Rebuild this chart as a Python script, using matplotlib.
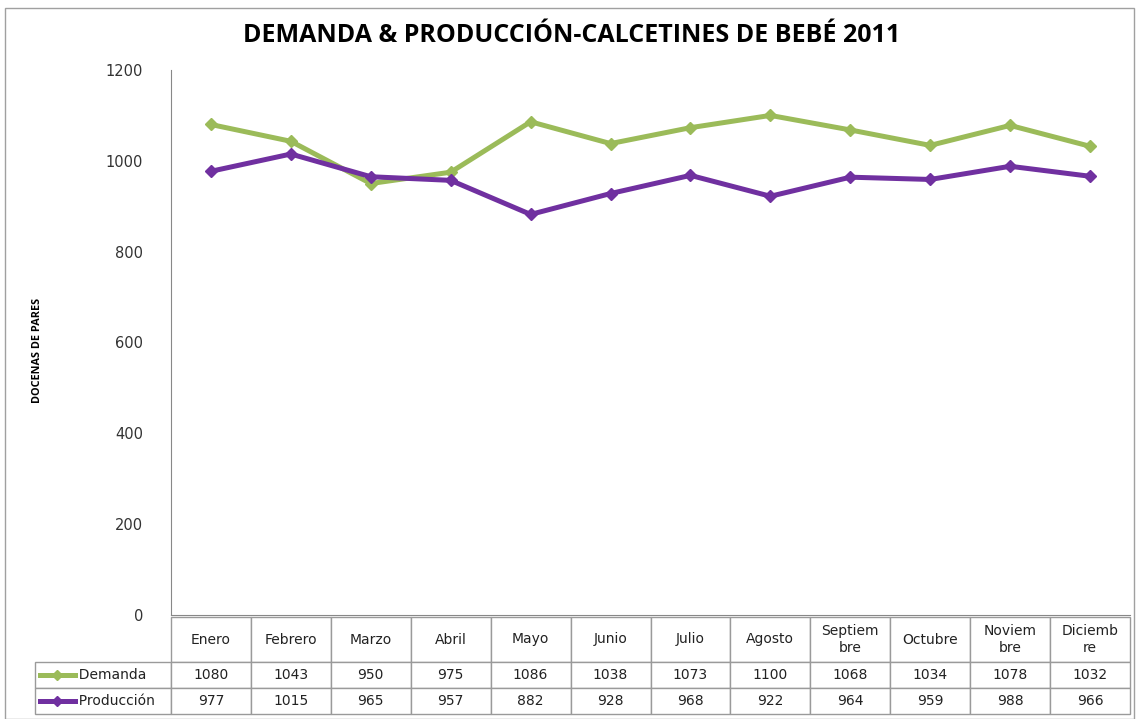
import matplotlib.pyplot as plt
from matplotlib.patches import Rectangle
from matplotlib.lines import Line2D

plt.rcParams["font.family"] = "DejaVu Sans"

meses = ["Enero", "Febrero", "Marzo", "Abril", "Mayo", "Junio", "Julio",
         "Agosto", "Septiem\nbre", "Octubre", "Noviem\nbre", "Diciemb\nre"]
demanda = [1080, 1043, 950, 975, 1086, 1038, 1073, 1100, 1068, 1034, 1078, 1032]
produccion = [977, 1015, 965, 957, 882, 928, 968, 922, 964, 959, 988, 966]
series = ["Demanda", "Producción"]
colores = ["#9BBB59", "#7030A0"]

W, H = 1137, 719
fig = plt.figure(figsize=(W / 100, H / 100), dpi=100)
fig.patches.append(Rectangle((5 / W, 0), (W - 8) / W, (H - 8) / H, transform=fig.transFigure,
                             fill=False, edgecolor="#A0A0A0", lw=1))

ax_l, ax_r, ax_t, ax_b = 171, 1130, 70, 615
ax = fig.add_axes([ax_l / W, (H - ax_b) / H, (ax_r - ax_l) / W, (ax_b - ax_t) / H])

x = list(range(len(meses)))
for vals, c in zip([demanda, produccion], colores):
    ax.plot(x, vals, color=c, lw=3.6, marker="D", markersize=6, clip_on=False)

ax.set_xlim(-0.5, len(meses) - 0.5)
ax.set_ylim(0, 1200)
ax.set_yticks(range(0, 1201, 200))
ax.tick_params(axis="y", length=0, pad=20, labelsize=10.5, colors="#333333")
ax.tick_params(axis="x", bottom=False, labelbottom=False)
for s in ["top", "right"]:
    ax.spines[s].set_visible(False)
ax.spines["left"].set_color("#888888")
ax.spines["bottom"].set_color("#888888")

fig.text(572 / W, 1 - 36 / H, "DEMANDA & PRODUCCIÓN-CALCETINES DE BEBÉ 2011",
         ha="center", va="center", fontsize=18, fontweight="bold", family="Open Sans")
fig.text(38 / W, 1 - 350 / H, "DOCENAS DE PARES", rotation=90, ha="center", va="center",
         fontsize=7.8, fontweight="bold", family="Open Sans")

# data table
axw = ax_r - ax_l
axh = ax_b - ax_t
lab_w = 136
cell_text = [["          " + s] + [str(v) for v in vals]
             for s, vals in zip(series, [demanda, produccion])]
tab = ax.table(cellText=cell_text, colLabels=[""] + meses,
               colWidths=[lab_w / axw] + [1 / 12] * 12, cellLoc="center",
               bbox=[-lab_w / axw, -(714 - ax_b) / axh, 1 + lab_w / axw, (714 - 617) / axh])
tab.auto_set_font_size(False)
for (r, c), cell in tab.get_celld().items():
    cell.set_edgecolor("#9A9A9A")
    cell.set_linewidth(1)
    cell.get_text().set_fontsize(10)
    cell.get_text().set_color("#222222")
    cell.set_height(45 if r == 0 else 26)
    if c == 0:
        cell.get_text().set_ha("left")
        cell.PAD = 0.0
        if r == 0:
            cell.visible_edges = ""

# legend keys in row labels
for i, c in enumerate(colores):
    yk = -(675 - ax_b + i * 26) / axh
    ax.add_line(Line2D([-(lab_w - 5) / axw, -(lab_w - 40) / axw], [yk, yk], transform=ax.transAxes,
                       color=c, lw=3.6, clip_on=False))
    ax.add_line(Line2D([-(lab_w - 22) / axw], [yk], transform=ax.transAxes,
                       color=c, marker="D", markersize=5, clip_on=False))

fig.savefig("out.png", dpi=100)
